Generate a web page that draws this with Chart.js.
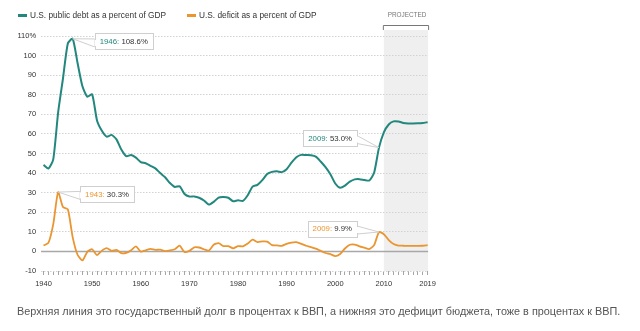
<!DOCTYPE html>
<html>
<head>
<meta charset="utf-8">
<script src="https://cdn.jsdelivr.net/npm/chart.js@4/dist/chart.umd.min.js"></script>
<style>
  html, body { margin: 0; padding: 0; background: #fff; }
  #wrap { position: relative; width: 640px; height: 331px; overflow: hidden;
          font-family: "Liberation Sans", Arial, Helvetica, sans-serif; }
  #chart { position: absolute; left: 0; top: 0; }
  .leg { position: absolute; top: 9px; height: 12px; line-height: 12px; font-size: 8.3px;
         color: #333; white-space: nowrap; }
  .leg i { position: absolute; left: 0; top: 5px; width: 9px; height: 2.5px; }
  .leg span { position: absolute; left: 12px; top: 0; }
  #caption { position: absolute; left: 17px; top: 304px; font-size: 10.85px; color: #555;
             white-space: nowrap; line-height: 14px; }
</style>
</head>
<body>
<div id="wrap">
  <canvas id="chart" width="640" height="331"></canvas>
  <div id="leg0" class="leg" style="left:18px"><i></i><span></span></div>
  <div id="leg1" class="leg" style="left:187px"><i></i><span></span></div>
  <div id="caption">Верхняя линия это государственный долг в процентах к ВВП, а нижняя это дефицит бюджета, тоже в процентах к ВВП.</div>
</div>
<script>
// Fiscal years on the horizontal axis
const years = [
  1940, 1941, 1942, 1943, 1944, 1945, 1946, 1947, 1948, 1949,
  1950, 1951, 1952, 1953, 1954, 1955, 1956, 1957, 1958, 1959,
  1960, 1961, 1962, 1963, 1964, 1965, 1966, 1967, 1968, 1969,
  1970, 1971, 1972, 1973, 1974, 1975, 1976, 1977, 1978, 1979,
  1980, 1981, 1982, 1983, 1984, 1985, 1986, 1987, 1988, 1989,
  1990, 1991, 1992, 1993, 1994, 1995, 1996, 1997, 1998, 1999,
  2000, 2001, 2002, 2003, 2004, 2005, 2006, 2007, 2008, 2009,
  2010, 2011, 2012, 2013, 2014, 2015, 2016, 2017, 2018, 2019
];

// Debt held by the public, % of GDP
const publicDebt = [
  44.2, 42.3, 47.0, 70.9, 88.3, 106.2, 108.6, 96.2, 84.3, 79.0,
  80.2, 66.9, 61.6, 58.6, 59.5, 57.2, 52.0, 48.6, 49.2, 47.9,
  45.6, 45.0, 43.7, 42.4, 40.0, 37.9, 34.9, 32.9, 33.3, 29.3,
  28.0, 28.1, 27.4, 26.0, 23.9, 25.3, 27.5, 27.8, 27.4, 25.6,
  26.1, 25.8, 28.7, 33.1, 34.0, 36.4, 39.5, 40.6, 40.9, 40.5,
  42.0, 45.3, 48.1, 49.3, 49.2, 49.1, 48.4, 45.9, 43.0, 39.4,
  34.7, 32.5, 33.6, 35.6, 36.8, 36.9, 36.5, 36.2, 40.2, 53.0,
  60.8, 64.8, 66.4, 66.3, 65.6, 65.3, 65.3, 65.4, 65.6, 66.0
];

// Budget deficit, % of GDP (negative = surplus)
const deficit = [
  3.0, 4.3, 13.9, 30.3, 22.7, 21.5, 7.2, -1.7, -4.6, -0.2,
  1.1, -1.9, 0.4, 1.7, 0.3, 0.8, -0.9, -0.8, 0.6, 2.6,
  -0.1, 0.6, 1.3, 0.8, 0.9, 0.2, 0.5, 1.1, 2.9, -0.3,
  0.3, 2.1, 2.0, 1.1, 0.4, 3.4, 4.2, 2.7, 2.7, 1.6,
  2.7, 2.6, 4.0, 6.0, 4.8, 5.1, 5.0, 3.2, 3.1, 2.8,
  3.9, 4.5, 4.7, 3.9, 2.9, 2.2, 1.4, 0.3, -0.8, -1.4,
  -2.4, -1.3, 1.5, 3.4, 3.5, 2.6, 1.9, 1.2, 3.2, 9.9,
  8.8, 5.8, 3.8, 3.0, 2.9, 2.8, 2.8, 2.8, 2.9, 3.2
];

const seriesNames = ['U.S. public debt as a percent of GDP', 'U.S. deficit as a percent of GDP'];
const seriesColors = ['#22877d', '#ea952f'];

const xTickLabels = [1940, 1950, 1960, 1970, 1980, 1990, 2000, 2010, 2019];
const yTicks = [-10, 0, 10, 20, 30, 40, 50, 60, 70, 80, 90, 100, 110];
const projectedFrom = 2010;
const projectedLabel = 'PROJECTED';

// Called-out points: series index and year
const callouts = [
  { series: 0, year: 1946, side: 'right', dy: 2.7 },
  { series: 1, year: 1943, side: 'right', dy: 1.8 },
  { series: 0, year: 2009, side: 'left', dy: -9.6 },
  { series: 1, year: 2009, side: 'left', dy: -3.5 }
];

// HTML legend
[0, 1].forEach(i => {
  const el = document.getElementById('leg' + i);
  el.querySelector('i').style.background = seriesColors[i];
  el.querySelector('span').textContent = seriesNames[i];
});

const FONT = '"Liberation Sans", Arial, Helvetica, sans-serif';

// Shaded projection band, bracket and label
const projectionBand = {
  id: 'projectionBand',
  beforeDraw(chart) {
    const { ctx, chartArea, scales } = chart;
    const x0 = scales.x.getPixelForValue(projectedFrom);
    const x1 = chartArea.right;
    const top = chartArea.top - 6;
    ctx.save();
    ctx.fillStyle = '#efefef';
    ctx.fillRect(x0, top, x1 - x0, chartArea.bottom - top);
    // bracket
    ctx.strokeStyle = '#777';
    ctx.lineWidth = 1;
    ctx.beginPath();
    ctx.moveTo(x0 - 0.5, top);
    ctx.lineTo(x0 - 0.5, top - 4.5);
    ctx.lineTo(x1 + 0.5, top - 4.5);
    ctx.lineTo(x1 + 0.5, top);
    ctx.stroke();
    ctx.fillStyle = '#777';
    ctx.font = '6.4px ' + FONT;
    ctx.textAlign = 'center';
    ctx.textBaseline = 'middle';
    ctx.fillText(projectedLabel, (x0 + x1) / 2 + 1, 15);
    ctx.restore();
  }
};

// Solid baseline at zero
const zeroLine = {
  id: 'zeroLine',
  beforeDatasetsDraw(chart) {
    const { ctx, chartArea, scales } = chart;
    const y = Math.round(scales.y.getPixelForValue(0)) + 0.5;
    ctx.save();
    ctx.strokeStyle = '#a8a8a8';
    ctx.lineWidth = 1.5;
    ctx.beginPath();
    ctx.moveTo(chartArea.left, y);
    ctx.lineTo(chartArea.right, y);
    ctx.stroke();
    ctx.restore();
  }
};

// Callout boxes with a tail pointing at the value
const calloutPlugin = {
  id: 'callouts',
  afterDatasetsDraw(chart) {
    const { ctx, scales } = chart;
    ctx.save();
    ctx.font = '7.8px ' + FONT;
    ctx.textBaseline = 'middle';
    callouts.forEach(c => {
      const idx = years.indexOf(c.year);
      const val = chart.data.datasets[c.series].data[idx].y;
      const px = scales.x.getPixelForValue(c.year);
      const py = scales.y.getPixelForValue(val);
      const yearTxt = c.year + ':';
      const valTxt = ' ' + val.toFixed(1) + '%';
      const w = ctx.measureText(yearTxt).width + ctx.measureText(valTxt).width + 10;
      const h = 16;
      const gap = 22;
      const bx = c.side === 'right' ? px + gap : px - gap - w;
      const cy = py + c.dy;
      const by = cy - h / 2;
      const edge = c.side === 'right' ? bx : bx + w;
      const a0 = cy - 2.5, a1 = cy + 5.5;

      ctx.lineWidth = 1;
      ctx.strokeStyle = '#cfcfcf';
      ctx.fillStyle = '#fff';
      // tail
      ctx.beginPath();
      ctx.moveTo(px, py);
      ctx.lineTo(edge, a0);
      ctx.lineTo(edge, a1);
      ctx.closePath();
      ctx.fill();
      ctx.stroke();
      // box
      ctx.fillRect(bx, by, w, h);
      ctx.strokeRect(Math.round(bx) + 0.5, Math.round(by) + 0.5, Math.round(w), h);
      // open the joint between tail and box
      ctx.strokeStyle = '#fff';
      ctx.lineWidth = 1.5;
      ctx.beginPath();
      ctx.moveTo(Math.round(edge) + 0.5, a0 + 1);
      ctx.lineTo(Math.round(edge) + 0.5, a1 - 1);
      ctx.stroke();
      // text
      ctx.textAlign = 'left';
      ctx.fillStyle = seriesColors[c.series];
      ctx.fillText(yearTxt, bx + 5, cy + 0.5);
      ctx.fillStyle = '#333';
      ctx.fillText(valTxt, bx + 5 + ctx.measureText(yearTxt).width, cy + 0.5);
    });
    ctx.restore();
  }
};

const toPoints = arr => years.map((yr, i) => ({ x: yr, y: arr[i] }));

new Chart(document.getElementById('chart'), {
  type: 'line',
  data: {
    datasets: [
      { label: seriesNames[0], data: toPoints(publicDebt), borderColor: seriesColors[0],
        borderWidth: 2, pointRadius: 0, tension: 0.2, borderJoinStyle: 'round' },
      { label: seriesNames[1], data: toPoints(deficit), borderColor: seriesColors[1],
        borderWidth: 1.8, pointRadius: 0, tension: 0.2, borderJoinStyle: 'round' }
    ]
  },
  options: {
    responsive: false,
    animation: false,
    events: [],
    layout: { padding: { left: 0, top: 36, right: 211.9, bottom: 0 } },
    plugins: { legend: { display: false }, tooltip: { enabled: false } },
    scales: {
      x: {
        type: 'linear',
        min: 1939.5,
        max: 2019.1,
        afterBuildTicks: s => { s.ticks = years.map(v => ({ value: v })); },
        afterFit: s => { s.height = 60; },
        grid: { drawOnChartArea: false, drawTicks: true, tickLength: 4, color: '#a5a5a5', lineWidth: 1 },
        border: { display: false },
        ticks: {
          autoSkip: false, maxRotation: 0, padding: 4,
          color: '#333', font: { family: FONT, size: 7.5 },
          callback: v => xTickLabels.includes(v) ? String(v) : ''
        }
      },
      y: {
        min: -10,
        max: 110,
        afterBuildTicks: s => { s.ticks = yTicks.map(v => ({ value: v })); },
        afterFit: s => { s.width = 41.1; },
        grid: { color: '#d2d2d2', lineWidth: 1, drawTicks: false },
        border: { display: false, dash: [1.5, 1.5] },
        ticks: {
          padding: 5, color: '#333', font: { family: FONT, size: 7.5 },
          callback: v => v === 110 ? v + '%' : String(v)
        }
      }
    }
  },
  plugins: [projectionBand, zeroLine, calloutPlugin]
});
</script>
</body>
</html>
